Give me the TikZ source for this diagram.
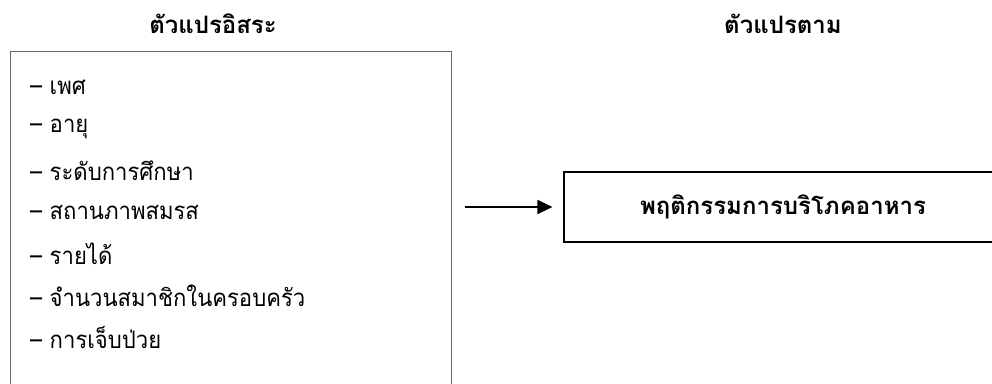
\documentclass[tikz,border=0pt]{standalone}
\usepackage{fontspec}
\setmainfont[Script=Thai, UprightFeatures={FakeStretch=0.92}]{Loma}
\usetikzlibrary{arrows.meta, positioning}

\tikzset{
  varbox/.style={draw, rectangle, inner sep=0pt},
  vitem/.style={anchor=west, inner sep=0pt},
  vhead/.style={font=\fontsize{24}{29}\selectfont\bfseries},
}

\begin{document}
\begin{tikzpicture}[x=1pt, y=1pt, font=\fontsize{24}{29}\selectfont]
  \useasboundingbox (0,0) rectangle (992,383);
  \clip (0,0) rectangle (992,383);
  \node[vhead] (indep) at (213,359) {ตัวแปรอิสระ};
  \node[vhead] (dep) at (783,359) {ตัวแปรตาม};
  \node[varbox, draw=black!60, line width=1pt, anchor=north west, minimum width=441, minimum height=344] (lbox) at (10,332) {};
  \foreach \txt [count=\i] in {เพศ, อายุ, ระดับการศึกษา, สถานภาพสมรส, รายได้, จำนวนสมาชิกในครอบครัว, การเจ็บป่วย}
    \node[vitem] (v\i) at (30,{296-41.8*(\i-1)}) {– \txt};
  \node[varbox, line width=1.2pt, minimum width=438, minimum height=70, vhead] (behav) at (783,176) {พฤติกรรมการบริโภคอาหาร};
  \draw[-{Triangle[length=15pt,width=14pt]}, line width=2pt, shorten <=13pt, shorten >=11pt]
    (lbox.east |- behav.west) -- (behav.west);
\end{tikzpicture}
\end{document}
